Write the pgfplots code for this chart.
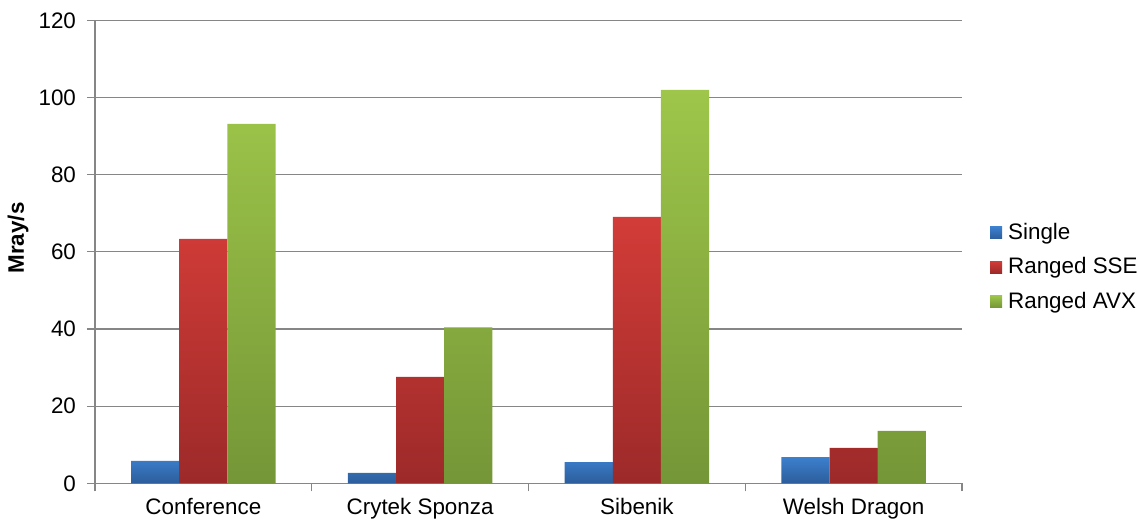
\documentclass[border=0pt]{standalone}
\usepackage{pgfplots}
\pgfplotsset{compat=1.18}
\usepackage{fontspec}
\setmainfont{Liberation Sans}

\definecolor{gridgray}{RGB}{134,134,134}
\definecolor{blueTop}{RGB}{60,128,206}
\definecolor{blueBot}{RGB}{44,93,155}
\definecolor{redTop}{RGB}{211,60,56}
\definecolor{redBot}{RGB}{156,42,41}
\definecolor{greenTop}{RGB}{158,198,74}
\definecolor{greenBot}{RGB}{117,150,55}

\newcommand{\chartfont}{\fontsize{11.2}{13}\selectfont}

\begin{document}
\begin{tikzpicture}
\useasboundingbox (0,0) rectangle (569.5pt,261pt);
\begin{axis}[
  at={(47.5pt,19.35pt)}, anchor=south west,
  scale only axis, width=433.5pt, height=231.4pt,
  ybar=0pt, bar width=24.1pt,
  xmin=-0.5, xmax=3.5,
  ymin=0, ymax=120, ytick={0,20,...,120},
  /pgf/number format/assume math mode=true,
  xtick={0,1,2,3},
  xticklabels={Conference, Crytek Sponza, Sibenik, Welsh Dragon},
  minor xtick={-0.5,0.5,1.5,2.5,3.5},
  major x tick style={draw=none},
  minor x tick style={gridgray, line width=0.6pt},
  y tick style={gridgray, line width=0.6pt},
  tick align=outside,
  major tick length=4pt, minor tick length=4pt,
  axis x line*=bottom, axis y line*=left,
  axis line style={gridgray, line width=0.6pt, -},
  ymajorgrids, grid style={gridgray, line width=0.6pt},
  tick label style={font=\chartfont},
  yticklabel style={xshift=-2pt},
  every axis y label/.style={at={(axis description cs:-0.0888,0.530)}, rotate=90, anchor=center, font=\chartfont\bfseries},
  ylabel={Mray/s},
  legend style={draw=none, fill=none, at={(1.032,0.467)}, anchor=west,
    inner sep=0pt, row sep=4.5pt, font=\chartfont,
    nodes={inner xsep=3pt, inner ysep=1.5pt}},
  legend cell align=left,
  legend image code/.code={\path[#1, draw=none] (0pt,-3pt) rectangle (6pt,3pt);},
]
\addplot[draw=none, top color=blueTop, bottom color=blueBot]
  coordinates {(0,5.8) (1,2.7) (2,5.5) (3,6.8)};
\addplot[draw=none, top color=redTop, bottom color=redBot]
  coordinates {(0,63.4) (1,27.6) (2,69.1) (3,9.2)};
\addplot[draw=none, top color=greenTop, bottom color=greenBot]
  coordinates {(0,93.2) (1,40.4) (2,102.0) (3,13.6)};
\legend{Single, Ranged SSE, Ranged AVX}
\end{axis}
\end{tikzpicture}
\end{document}
